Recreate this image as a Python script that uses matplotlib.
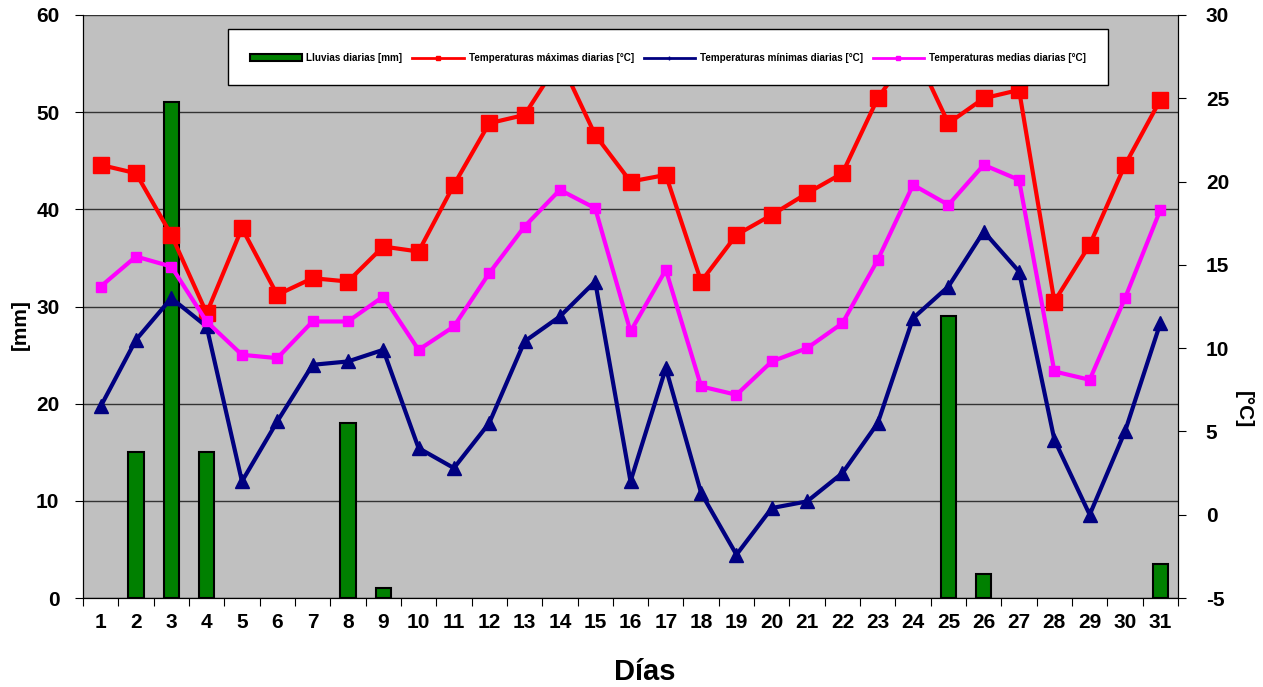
import numpy as np
import matplotlib
matplotlib.use("Agg")
import matplotlib.pyplot as plt
from matplotlib.lines import Line2D
from matplotlib.patches import Patch, Rectangle

plt.rcParams['font.family'] = ['Liberation Sans', 'DejaVu Sans']
plt.rcParams['font.weight'] = 'bold'
plt.rcParams['axes.unicode_minus'] = False

# Data
dias = list(range(1, 32))
lluvia_dias = [2, 3, 4, 8, 9, 25, 26, 31]
lluvia_mm = [15, 51, 15, 18, 1, 29, 2.5, 3.5]

t_max = [21.0, 20.5, 16.8, 12.1, 17.2, 13.2, 14.2, 14.0, 16.1, 15.8,
         19.8, 23.5, 24.0, 27.3, 22.8, 20.0, 20.4, 14.0, 16.8, 18.0,
         19.3, 20.5, 25.0, 28.0, 23.5, 25.0, 25.5, 12.8, 16.2, 21.0, 24.9]
t_min = [6.5, 10.5, 13.0, 11.3, 2.0, 5.6, 9.0, 9.2, 9.9, 4.0,
         2.8, 5.5, 10.4, 11.9, 14.0, 2.0, 8.8, 1.3, -2.4, 0.4,
         0.8, 2.5, 5.5, 11.8, 13.7, 17.0, 14.6, 4.5, 0.0, 5.0, 11.5]
t_med = [13.7, 15.5, 14.9, 11.6, 9.6, 9.4, 11.6, 11.6, 13.1, 9.9,
         11.3, 14.5, 17.3, 19.5, 18.4, 11.0, 14.7, 7.7, 7.2, 9.2,
         10.0, 11.5, 15.3, 19.8, 18.6, 21.0, 20.1, 8.6, 8.1, 13.0, 18.3]

fig = plt.figure(figsize=(12.63, 6.87), dpi=100)
ax1 = fig.add_axes([83/1263, 1 - 598/687, (1178 - 83)/1263, (598 - 15)/687])
ax1.set_facecolor('#C0C0C0')

# Lluvias (left axis)
ax1.bar(lluvia_dias, lluvia_mm, width=0.43, color='#008000',
        edgecolor='black', linewidth=1.5, zorder=3)
ax1.set_ylim(0, 60)
ax1.set_yticks(range(0, 61, 10))
ax1.set_xlim(0.5, 31.5)
ax1.yaxis.grid(True, color='#333333', linewidth=1.0, zorder=1)
ax1.set_axisbelow(True)

# x ticks at category boundaries, labels centred
ax1.set_xticks(np.arange(0.5, 32, 1))
ax1.set_xticklabels([])
ax1.set_xticks(dias, minor=True)
ax1.set_xticklabels([str(d) for d in dias], minor=True)
ax1.tick_params(axis='x', which='major', length=6, direction='out')
ax1.tick_params(axis='x', which='minor', length=0, pad=11, labelsize=15)
ax1.tick_params(axis='y', length=6, direction='out', pad=11, labelsize=15)
for lab in ax1.get_xticklabels(minor=True) + ax1.get_yticklabels():
    lab.set_fontweight('bold')
ax1.spines['top'].set_visible(False)

# Temperaturas (right axis)
ax2 = ax1.twinx()
ax2.plot(dias, t_max, color='#FF0000', lw=3, marker='s', ms=11, zorder=4)
ax2.plot(dias, t_min, color='#000080', lw=3, marker='^', ms=10, zorder=4)
ax2.plot(dias, t_med, color='#FF00FF', lw=3, marker='s', ms=7, zorder=4)
ax2.set_ylim(-5, 30)
ax2.set_yticks(range(-5, 31, 5))
ax2.tick_params(axis='y', length=6, direction='out', pad=14, labelsize=15)
for lab in ax2.get_yticklabels():
    lab.set_fontweight('bold')
ax2.spines['top'].set_visible(False)

# Legend box (drawn separately so its size matches the original)
x0 = (228 - 83) / 1095
w = (1108 - 228) / 1095
y0 = (598 - 85) / 583
h = (85 - 29) / 583
box = Rectangle((x0, y0), w, h, transform=ax2.transAxes, facecolor='white',
                edgecolor='black', linewidth=1.0, zorder=9)
ax2.add_patch(box)

handles = [
    Patch(facecolor='#008000', edgecolor='black', linewidth=1.5),
    Line2D([], [], color='#FF0000', lw=2, marker='s', ms=3),
    Line2D([], [], color='#000080', lw=2, marker='+', ms=3),
    Line2D([], [], color='#FF00FF', lw=2, marker='s', ms=3),
]
labels = ['Lluvias diarias [mm]', 'Temperaturas máximas diarias [°C]',
          'Temperaturas mínimas diarias [°C]', 'Temperaturas medias diarias [°C]']
leg = ax2.legend(handles, labels, ncol=4, loc='center',
                 bbox_to_anchor=(x0 + w / 2, y0 + h / 2 - 0.002),
                 prop={'size': 7.1, 'weight': 'bold'}, frameon=False,
                 handlelength=5.2, handletextpad=0.5, columnspacing=1.0,
                 borderaxespad=0, borderpad=0)
leg.set_zorder(10)

fig.text(20/1263, 1 - 325/687, '[mm]', rotation=90, ha='center', va='center',
         fontsize=15, fontweight='bold')
fig.text(1243/1263, 1 - 410/687, '[°C]', rotation=270, ha='center', va='center',
         fontsize=15, fontweight='bold')
fig.text(645/1263, 1 - 672/687, 'Días', ha='center', va='center',
         fontsize=21, fontweight='bold')

fig.savefig('out.png', dpi=100)
